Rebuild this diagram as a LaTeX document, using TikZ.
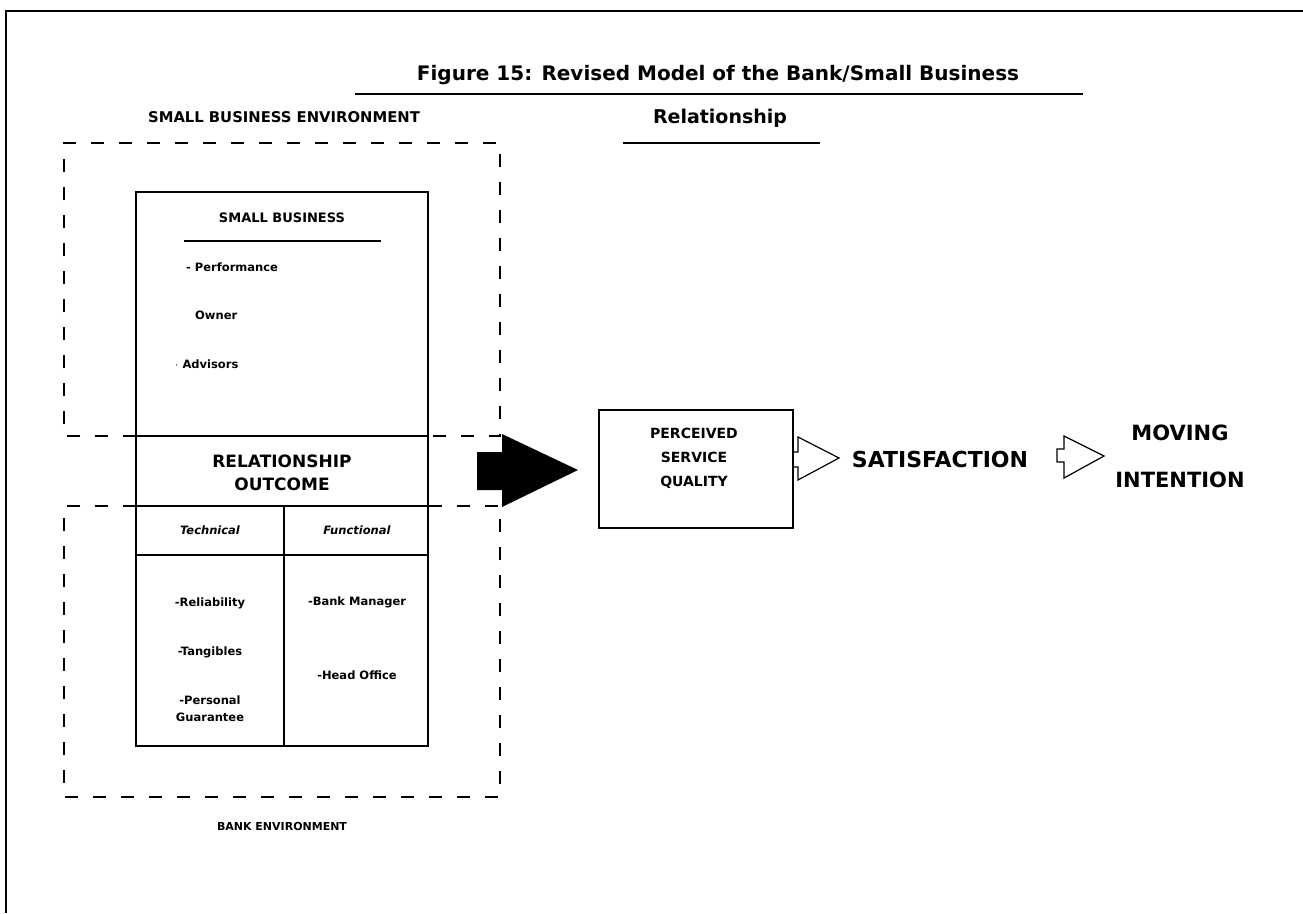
\documentclass[tikz,border=0pt]{standalone}
\usepackage{fontspec}
\setmainfont{DejaVu Sans}
\begin{document}
\begin{tikzpicture}[x=1pt,y=-1pt,
  envline/.style={line width=1.6pt, dash pattern=on 13pt off 15pt},
  solidbox/.style={draw, line width=1.6pt},
  lbl/.style={inner sep=0pt, font=\bfseries},
  item/.style={inner sep=0pt, font=\bfseries\fontsize{11.5}{13}\selectfont, anchor=west},
  cell/.style={inner sep=0pt, font=\bfseries\fontsize{11.5}{17}\selectfont, align=center},
  rule/.style={line width=2pt}]
\useasboundingbox (0,0) rectangle (1303,913);
% outer frame
\draw[line width=2pt] (6,913) -- (6,11) -- (1303,11);
% title
\node[lbl, font=\bfseries\fontsize{20}{22}\selectfont] (title) at (718,75) {Figure 15: Revised Model of the Bank/Small Business};
\draw[rule] (355,94) -- (1083,94);
\node[lbl, font=\bfseries\fontsize{19}{22}\selectfont] (rel) at (720,118) {Relationship};
\draw[rule] (623,143) -- (820,143);
% environments
\node[lbl, font=\bfseries\fontsize{14.8}{17}\selectfont] (sbe) at (284,117) {SMALL BUSINESS ENVIRONMENT};
\node[lbl, font=\bfseries\fontsize{11}{13}\selectfont] (be) at (282,826) {BANK ENVIRONMENT};
\draw[envline] (136,436) -- (64,436) -- (64,143) -- (500,143) -- (500,436) -- (428,436);
\draw[envline] (136,506) -- (64,506) -- (64,797) -- (500,797) -- (500,506) -- (428,506);
% small business box
\draw[solidbox, fill=white] (136,192) rectangle (428,436);
\node[lbl, font=\bfseries\fontsize{13}{15}\selectfont] (sb) at (282,218) {SMALL BUSINESS};
\draw[rule] (184,241) -- (381,241);
\node[item] (perf) at (186,267) {- Performance};
\node[item] (own) at (195,315) {Owner};
\node[item] (adv) at (175,364) {$\cdot$ Advisors};
% relationship outcome
\draw[solidbox, fill=white] (136,436) rectangle (428,506);
\node[lbl, font=\bfseries\fontsize{17}{23}\selectfont, align=center] (ro) at (282,473) {RELATIONSHIP\\OUTCOME};
% technical / functional
\draw[solidbox, fill=white] (136,506) rectangle (428,746);
\draw[line width=1.6pt] (136,555) -- (428,555);
\draw[line width=1.6pt] (284,506) -- (284,746);
\node[inner sep=0pt, font=\bfseries\itshape\fontsize{11.5}{13}\selectfont] (tech) at (210,530) {Technical};
\node[inner sep=0pt, font=\bfseries\itshape\fontsize{11.5}{13}\selectfont] (func) at (357,530) {Functional};
\node[cell] (relb) at (210,603) {-Reliability};
\node[cell] (tang) at (210,652) {-Tangibles};
\node[cell] (pg) at (210,709) {-Personal\\Guarantee};
\node[cell] (bm) at (357,602) {-Bank Manager};
\node[cell] (ho) at (357,675) {-Head Office};
% perceived service quality
\node[solidbox, line width=1.3pt, minimum width=194pt, minimum height=118pt, inner sep=0pt] (psq) at (696,469) {};
\node[lbl, font=\bfseries\fontsize{14}{24}\selectfont, align=center] (psqt) at (694,458) {PERCEIVED\\SERVICE\\QUALITY};
% big black arrow
\fill (477,452) -- (502,452) -- (502,434) -- (578,470) -- (502,507) -- (502,490) -- (477,490) -- cycle;
% hollow arrows
\node[lbl, font=\bfseries\fontsize{22}{24}\selectfont] (sat) at (940,459) {SATISFACTION};
\node[lbl, font=\bfseries\fontsize{21}{47}\selectfont, align=center] (mi) at (1180,456) {MOVING\\INTENTION};
\draw[line width=1.2pt, fill=white] (794,452) -- (798,452) -- (798,437) -- (839,458) -- (798,480) -- (798,467) -- (794,467);
\draw[line width=1.2pt, fill=white] (1064,449) -- (1057,449) -- (1057,462) -- (1064,462) -- (1064,478) -- (1104,456) -- (1064,436) -- cycle;
\end{tikzpicture}
\end{document}
